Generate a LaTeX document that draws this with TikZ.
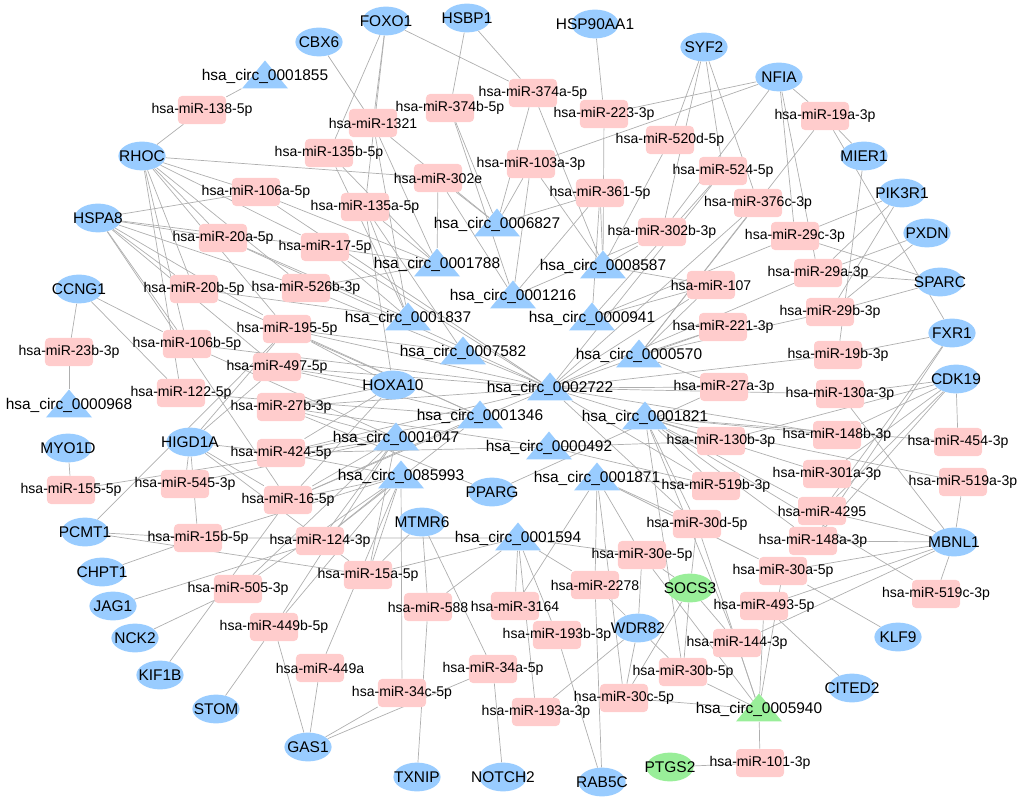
\documentclass[tikz,border=0pt]{standalone}
\usepackage{fontspec}
\setmainfont{Liberation Sans}
\usetikzlibrary{shapes.geometric,backgrounds}
\definecolor{geneColor}{HTML}{99CCFF}
\definecolor{mirColor}{HTML}{FFCCCC}
\definecolor{hitColor}{HTML}{99EE99}
\definecolor{linkColor}{HTML}{AFAFAF}
\tikzset{
	lab/.style={inner sep=0, execute at begin node={\hbox to 0pt\bgroup\hss}, execute at end node={\hss\egroup}},
	gene/.style={lab, ellipse, fill=geneColor, minimum width=1.18cm, minimum height=0.72cm, font=\fontsize{11}{13}\selectfont},
	mir/.style={lab, rectangle, rounded corners=1mm, fill=mirColor, minimum width=1.2cm, minimum height=0.7cm, font=\fontsize{10}{12}\selectfont},
	circ/.style={lab, isosceles triangle, isosceles triangle stretches, shape border rotate=90, fill=geneColor, minimum width=1.15cm, minimum height=0.7cm, font=\fontsize{11}{13}\selectfont},
	link/.style={draw=linkColor, line width=0.5pt}
}
\begin{document}
\begin{tikzpicture}[x=0.025cm, y=-0.025cm]
	\useasboundingbox (0,0) rectangle (1021,801);
	% mRNA
	\node[gene] (FOXO1) at (386,21) {FOXO1};
	\node[gene] (HSBP1) at (467,18) {HSBP1};
	\node[gene] (HSP90AA1) at (595,24) {HSP90AA1};
	\node[gene] (CBX6) at (319,42) {CBX6};
	\node[gene] (SYF2) at (704,47) {SYF2};
	\node[gene] (NFIA) at (779,77) {NFIA};
	\node[gene] (RHOC) at (142,156) {RHOC};
	\node[gene] (MIER1) at (864,156) {MIER1};
	\node[gene] (PIK3R1) at (902,193) {PIK3R1};
	\node[gene] (HSPA8) at (98,218) {HSPA8};
	\node[gene] (PXDN) at (927,233) {PXDN};
	\node[gene] (SPARC) at (940,282) {SPARC};
	\node[gene] (CCNG1) at (79,289) {CCNG1};
	\node[gene] (FXR1) at (952,333) {FXR1};
	\node[gene] (CDK19) at (956,379) {CDK19};
	\node[gene] (HOXA10) at (393,385) {HOXA10};
	\node[gene] (HIGD1A) at (190,442) {HIGD1A};
	\node[gene] (MYO1D) at (68,448) {MYO1D};
	\node[gene] (PPARG) at (492,492) {PPARG};
	\node[gene] (MTMR6) at (422,522) {MTMR6};
	\node[gene] (PCMT1) at (85,532) {PCMT1};
	\node[gene] (MBNL1) at (954,542) {MBNL1};
	\node[gene] (CHPT1) at (102,572) {CHPT1};
	\node[gene, fill=hitColor] (SOCS3) at (690,588) {SOCS3};
	\node[gene] (JAG1) at (113,606) {JAG1};
	\node[gene] (WDR82) at (638,628) {WDR82};
	\node[gene] (KLF9) at (898,637) {KLF9};
	\node[gene] (NCK2) at (135,638) {NCK2};
	\node[gene] (KIF1B) at (160,675) {KIF1B};
	\node[gene] (CITED2) at (852,688) {CITED2};
	\node[gene] (STOM) at (216,709) {STOM};
	\node[gene] (GAS1) at (308,747) {GAS1};
	\node[gene, fill=hitColor] (PTGS2) at (670,767) {PTGS2};
	\node[gene] (TXNIP) at (417,777) {TXNIP};
	\node[gene] (NOTCH2) at (503,777) {NOTCH2};
	\node[gene] (RAB5C) at (602,782) {RAB5C};
	% miRNA
	\node[mir] (m138) at (202,110) {hsa-miR-138-5p};
	\node[mir] (m1321) at (373,123) {hsa-miR-1321};
	\node[mir] (m374b) at (450,108) {hsa-miR-374b-5p};
	\node[mir] (m374a) at (533,93) {hsa-miR-374a-5p};
	\node[mir] (m223) at (604,114) {hsa-miR-223-3p};
	\node[mir] (m19a) at (825,116) {hsa-miR-19a-3p};
	\node[mir] (m520d) at (670,140) {hsa-miR-520d-5p};
	\node[mir] (m135b) at (329,153) {hsa-miR-135b-5p};
	\node[mir] (m103a) at (531,164) {hsa-miR-103a-3p};
	\node[mir] (m524) at (723,171) {hsa-miR-524-5p};
	\node[mir] (m302e) at (438,178) {hsa-miR-302e};
	\node[mir] (m106a) at (256,192) {hsa-miR-106a-5p};
	\node[mir] (m361) at (600,193) {hsa-miR-361-5p};
	\node[mir] (m376c) at (758,203) {hsa-miR-376c-3p};
	\node[mir] (m135a) at (365,207) {hsa-miR-135a-5p};
	\node[mir] (m302b) at (662,232) {hsa-miR-302b-3p};
	\node[mir] (m29c) at (795,236) {hsa-miR-29c-3p};
	\node[mir] (m20a) at (223,238) {hsa-miR-20a-5p};
	\node[mir] (m17) at (325,247) {hsa-miR-17-5p};
	\node[mir] (m29a) at (818,273) {hsa-miR-29a-3p};
	\node[mir] (m107) at (711,285) {hsa-miR-107};
	\node[mir] (m526b) at (306,288) {hsa-miR-526b-3p};
	\node[mir] (m20b) at (194,289) {hsa-miR-20b-5p};
	\node[mir] (m29b) at (830,312) {hsa-miR-29b-3p};
	\node[mir] (m221) at (723,327) {hsa-miR-221-3p};
	\node[mir] (m195) at (287,329) {hsa-miR-195-5p};
	\node[mir] (m106b) at (187,344) {hsa-miR-106b-5p};
	\node[mir] (m23b) at (69,352) {hsa-miR-23b-3p};
	\node[mir] (m19b) at (838,355) {hsa-miR-19b-3p};
	\node[mir] (m497) at (277,367) {hsa-miR-497-5p};
	\node[mir] (m27a) at (724,387) {hsa-miR-27a-3p};
	\node[mir] (m122) at (181,393) {hsa-miR-122-5p};
	\node[mir] (m130a) at (840,394) {hsa-miR-130a-3p};
	\node[mir] (m27b) at (281,407) {hsa-miR-27b-3p};
	\node[mir] (m148b) at (837,435) {hsa-miR-148b-3p};
	\node[mir] (m130b) at (721,441) {hsa-miR-130b-3p};
	\node[mir] (m454) at (958,442) {hsa-miR-454-3p};
	\node[mir] (m424) at (281,453) {hsa-miR-424-5p};
	\node[mir] (m301a) at (827,474) {hsa-miR-301a-3p};
	\node[mir] (m519a) at (963,482) {hsa-miR-519a-3p};
	\node[mir] (m545) at (185,484) {hsa-miR-545-3p};
	\node[mir] (m519b) at (716,486) {hsa-miR-519b-3p};
	\node[mir] (m155) at (71,490) {hsa-miR-155-5p};
	\node[mir] (m16) at (288,500) {hsa-miR-16-5p};
	\node[mir] (m4295) at (822,511) {hsa-miR-4295};
	\node[mir] (m30d) at (697,524) {hsa-miR-30d-5p};
	\node[mir] (m15b) at (198,538) {hsa-miR-15b-5p};
	\node[mir] (m124) at (320,541) {hsa-miR-124-3p};
	\node[mir] (m148a) at (813,541) {hsa-miR-148a-3p};
	\node[mir] (m30e) at (642,555) {hsa-miR-30e-5p};
	\node[mir] (m30a) at (783,571) {hsa-miR-30a-5p};
	\node[mir] (m15a) at (368,575) {hsa-miR-15a-5p};
	\node[mir] (m2278) at (595,585) {hsa-miR-2278};
	\node[mir] (m505) at (238,589) {hsa-miR-505-3p};
	\node[mir] (m519c) at (936,594) {hsa-miR-519c-3p};
	\node[mir] (m493) at (764,606) {hsa-miR-493-5p};
	\node[mir] (m3164) at (515,606) {hsa-miR-3164};
	\node[mir] (m588) at (428,607) {hsa-miR-588};
	\node[mir] (m449b) at (274,627) {hsa-miR-449b-5p};
	\node[mir] (m193b) at (557,635) {hsa-miR-193b-3p};
	\node[mir] (m144) at (737,643) {hsa-miR-144-3p};
	\node[mir] (m449a) at (320,668) {hsa-miR-449a};
	\node[mir] (m34a) at (493,669) {hsa-miR-34a-5p};
	\node[mir] (m30b) at (683,672) {hsa-miR-30b-5p};
	\node[mir] (m34c) at (402,693) {hsa-miR-34c-5p};
	\node[mir] (m30c) at (624,698) {hsa-miR-30c-5p};
	\node[mir] (m193a) at (536,712) {hsa-miR-193a-3p};
	\node[mir] (m101) at (760,763) {hsa-miR-101-3p};
	% circRNA
	\node[circ] (c1855) at (265,76) {hsa\_circ\_0001855};
	\node[circ] (c6827) at (497,224) {hsa\_circ\_0006827};
	\node[circ] (c1788) at (437,264) {hsa\_circ\_0001788};
	\node[circ] (c8587) at (603,266) {hsa\_circ\_0008587};
	\node[circ] (c1216) at (513,296) {hsa\_circ\_0001216};
	\node[circ] (c1837) at (408,318) {hsa\_circ\_0001837};
	\node[circ] (c941) at (592,318) {hsa\_circ\_0000941};
	\node[circ] (c7582) at (463,352) {hsa\_circ\_0007582};
	\node[circ] (c570) at (639,355) {hsa\_circ\_0000570};
	\node[circ] (c2722) at (550,388) {hsa\_circ\_0002722};
	\node[circ] (c1346) at (480,416) {hsa\_circ\_0001346};
	\node[circ] (c1821) at (645,417) {hsa\_circ\_0001821};
	\node[circ] (c1047) at (396,438) {hsa\_circ\_0001047};
	\node[circ] (c492) at (549,447) {hsa\_circ\_0000492};
	\node[circ] (c968) at (69,405) {hsa\_circ\_0000968};
	\node[circ] (c85993) at (401,476) {hsa\_circ\_0085993};
	\node[circ] (c1871) at (597,478) {hsa\_circ\_0001871};
	\node[circ] (c1594) at (518,538) {hsa\_circ\_0001594};
	\node[circ, fill=hitColor] (c5940) at (759,709) {hsa\_circ\_0005940};
	% interactions
	\begin{scope}[on background layer]
		\foreach \t in {c1855,RHOC} \path[link] (m138) -- (\t);
		\foreach \t in {FOXO1,CBX6,c6827,c1788,c1837} \path[link] (m1321) -- (\t);
		\foreach \t in {HSBP1,c6827,c1216} \path[link] (m374b) -- (\t);
		\foreach \t in {FOXO1,HSBP1,c8587,c6827} \path[link] (m374a) -- (\t);
		\foreach \t in {HSP90AA1,NFIA,c8587} \path[link] (m223) -- (\t);
		\foreach \t in {NFIA,MIER1,FXR1,c570} \path[link] (m19a) -- (\t);
		\foreach \t in {SYF2,c8587} \path[link] (m520d) -- (\t);
		\foreach \t in {FOXO1,c1788,c1837} \path[link] (m135b) -- (\t);
		\foreach \t in {NFIA,c6827,c8587,c1216} \path[link] (m103a) -- (\t);
		\foreach \t in {SYF2,c941,c2722} \path[link] (m524) -- (\t);
		\foreach \t in {RHOC,c6827,c1216,c1788} \path[link] (m302e) -- (\t);
		\foreach \t in {RHOC,HSPA8,c1788,c2722} \path[link] (m106a) -- (\t);
		\foreach \t in {c8587,c6827,c1216,c941} \path[link] (m361) -- (\t);
		\foreach \t in {SYF2,c2722,c570} \path[link] (m376c) -- (\t);
		\foreach \t in {FOXO1,HOXA10,c1788,c7582,c1837} \path[link] (m135a) -- (\t);
		\foreach \t in {SYF2,NFIA,c8587,c1216} \path[link] (m302b) -- (\t);
		\foreach \t in {SPARC,PIK3R1,NFIA,c941} \path[link] (m29c) -- (\t);
		\foreach \t in {RHOC,HSPA8,c1837,c2722} \path[link] (m20a) -- (\t);
		\foreach \t in {RHOC,HSPA8,c1788,c1837,c2722} \path[link] (m17) -- (\t);
		\foreach \t in {SPARC,PIK3R1,PXDN,NFIA,c2722} \path[link] (m29a) -- (\t);
		\foreach \t in {c2722,c941,c570,c8587} \path[link] (m107) -- (\t);
		\foreach \t in {RHOC,HSPA8,c1788,c2722} \path[link] (m526b) -- (\t);
		\foreach \t in {RHOC,HSPA8,c1837,c1346} \path[link] (m20b) -- (\t);
		\foreach \t in {SPARC,PIK3R1,PXDN,c570} \path[link] (m29b) -- (\t);
		\foreach \t in {c2722,c570} \path[link] (m221) -- (\t);
		\foreach \t in {RHOC,HSPA8,HIGD1A,PCMT1,HOXA10,c7582,c2722,c1346} \path[link] (m195) -- (\t);
		\foreach \t in {RHOC,HSPA8,CCNG1,c1047,c2722} \path[link] (m106b) -- (\t);
		\foreach \t in {CCNG1,c968} \path[link] (m23b) -- (\t);
		\foreach \t in {FXR1,MIER1,c2722} \path[link] (m19b) -- (\t);
		\foreach \t in {HSPA8,HIGD1A,HOXA10,c2722,c1346} \path[link] (m497) -- (\t);
		\foreach \t in {PPARG,c2722,c570} \path[link] (m27a) -- (\t);
		\foreach \t in {RHOC,CCNG1,c1346} \path[link] (m122) -- (\t);
		\foreach \t in {CDK19,MBNL1,c2722} \path[link] (m130a) -- (\t);
		\foreach \t in {HOXA10,PPARG,c2722,c492,c1047} \path[link] (m27b) -- (\t);
		\foreach \t in {CDK19,c2722,c1821} \path[link] (m148b) -- (\t);
		\foreach \t in {CDK19,c2722,c1821,c492} \path[link] (m130b) -- (\t);
		\foreach \t in {CDK19,c1821} \path[link] (m454) -- (\t);
		\foreach \t in {HIGD1A,HOXA10,c2722,c85993,c1346,c492} \path[link] (m424) -- (\t);
		\foreach \t in {CDK19,MBNL1,c1821} \path[link] (m301a) -- (\t);
		\foreach \t in {MBNL1,c1821} \path[link] (m519a) -- (\t);
		\foreach \t in {HIGD1A,c1047} \path[link] (m545) -- (\t);
		\foreach \t in {c1821,c2722,c492,c1871} \path[link] (m519b) -- (\t);
		\foreach \t in {MYO1D,c1047} \path[link] (m155) -- (\t);
		\foreach \t in {HSPA8,HIGD1A,KIF1B,HOXA10,c85993,c1047,c2722,c1346} \path[link] (m16) -- (\t);
		\foreach \t in {CDK19,FXR1,MBNL1,c1821} \path[link] (m4295) -- (\t);
		\foreach \t in {SOCS3,c1871,c5940,c1821,c2722} \path[link] (m30d) -- (\t);
		\foreach \t in {HIGD1A,PCMT1,CHPT1,c85993,c1594} \path[link] (m15b) -- (\t);
		\foreach \t in {JAG1,c85993,c1047,c1346} \path[link] (m124) -- (\t);
		\foreach \t in {MBNL1,CDK19,FXR1,c1821} \path[link] (m148a) -- (\t);
		\foreach \t in {WDR82,SOCS3,c1594,c1871,c5940} \path[link] (m30e) -- (\t);
		\foreach \t in {MBNL1,KLF9,c5940,c1871} \path[link] (m30a) -- (\t);
		\foreach \t in {HIGD1A,PCMT1,MTMR6,c85993,c1047,c1594} \path[link] (m15a) -- (\t);
		\foreach \t in {RAB5C,WDR82,c1594,c1871} \path[link] (m2278) -- (\t);
		\foreach \t in {NCK2,c85993,c1047} \path[link] (m505) -- (\t);
		\foreach \t in {MBNL1,c1821} \path[link] (m519c) -- (\t);
		\foreach \t in {MBNL1,CITED2,c5940} \path[link] (m493) -- (\t);
		\foreach \t in {c1594,c1871} \path[link] (m3164) -- (\t);
		\foreach \t in {MTMR6,TXNIP,c1594} \path[link] (m588) -- (\t);
		\foreach \t in {STOM,GAS1,c85993,c1047} \path[link] (m449b) -- (\t);
		\foreach \t in {RAB5C,c1594} \path[link] (m193b) -- (\t);
		\foreach \t in {MBNL1,SOCS3,c5940,c1821} \path[link] (m144) -- (\t);
		\foreach \t in {GAS1,c85993} \path[link] (m449a) -- (\t);
		\foreach \t in {GAS1,NOTCH2,MTMR6} \path[link] (m34a) -- (\t);
		\foreach \t in {WDR82,SOCS3,c5940,c1821} \path[link] (m30b) -- (\t);
		\foreach \t in {GAS1,c85993} \path[link] (m34c) -- (\t);
		\foreach \t in {WDR82,SOCS3,c5940,c1871} \path[link] (m30c) -- (\t);
		\foreach \t in {WDR82,c1594} \path[link] (m193a) -- (\t);
		\foreach \t in {PTGS2,c5940} \path[link] (m101) -- (\t);
	\end{scope}
\end{tikzpicture}
\end{document}
